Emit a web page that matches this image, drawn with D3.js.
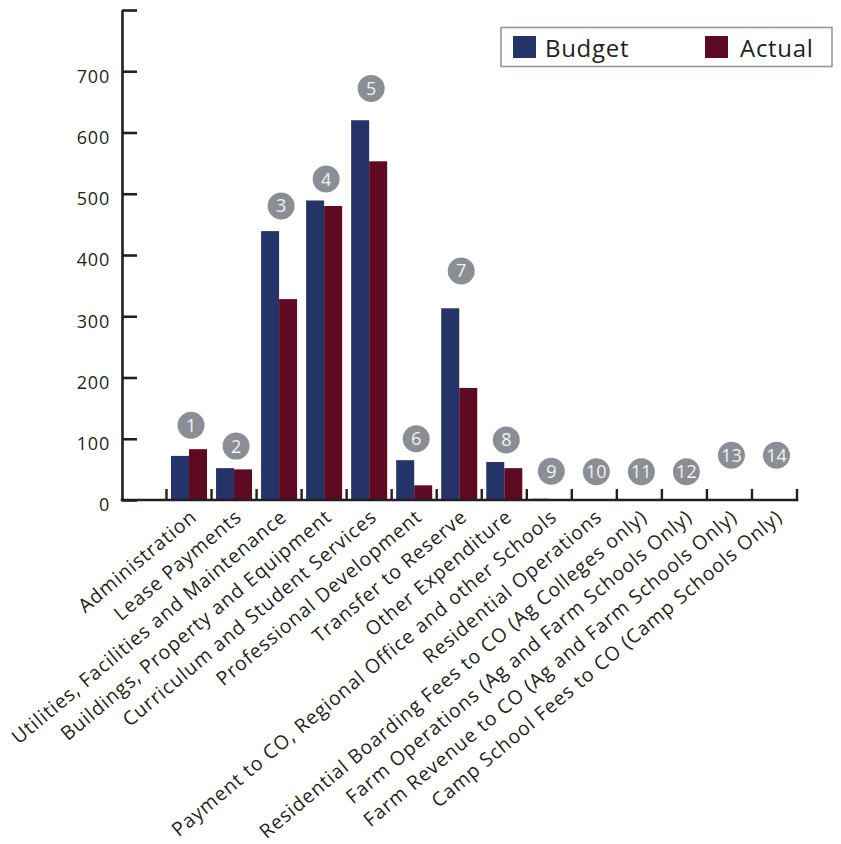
<!DOCTYPE html>
<html>
<head>
<meta charset="utf-8">
<script src="https://cdn.jsdelivr.net/npm/d3@7/dist/d3.min.js"></script>
<style>
  html, body { margin: 0; padding: 0; background: #fff; }
  svg { display: block; }
  text { font-family: "Open Sans", "Lato", sans-serif; fill: #231f20; }
</style>
</head>
<body>
<svg id="chart" width="841" height="844"></svg>
<script>
const categories = [
  "Administration",
  "Lease Payments",
  "Utilities, Facilities and Maintenance",
  "Buildings, Property and Equipment",
  "Curriculum and Student Services",
  "Professional Development",
  "Transfer to Reserve",
  "Other Expenditure",
  "Payment to CO, Regional Office and other Schools",
  "Residential Operations",
  "Residential Boarding Fees to CO (Ag Colleges only)",
  "Farm Operations (Ag and Farm Schools Only)",
  "Farm Revenue to CO (Ag and Farm Schools Only)",
  "Camp School Fees to CO (Camp Schools Only)"
];
const budget = [72, 52, 439, 489, 620, 65, 313, 62, 2, 0, 0, 0, 0, 0];
const actual = [83, 50, 328, 480, 553, 24, 183, 52, 0, 0, 0, 0, 0, 0];
const badgeNumbers = [1, 2, 3, 4, 5, 6, 7, 8, 9, 10, 11, 12, 13, 14];
const badgeLevels = [122, 88, 480, 524, 672, 100, 374, 98, 47, 46, 46, 46, 73, 73];
const yTicks = [0, 100, 200, 300, 400, 500, 600, 700, 800];
const yTickLabels = ["0", "100", "200", "300", "400", "500", "600", "700", ""];
const seriesNames = ["Budget", "Actual"];
const colors = ["#243468", "#5e0a22"];

const svg = d3.select("#chart");
const axisX0 = 122, plotLeft = 166.5, plotRight = 797, yTop = 10, yZero = 500;

const y = d3.scaleLinear().domain([0, 800]).range([yZero, yTop]);
const x = d3.scaleBand().domain(categories).range([plotLeft, plotRight]).paddingInner(0).paddingOuter(0);
const xSub = d3.scaleBand().domain(seriesNames).range([4.5, x.bandwidth() - 4.5]).padding(0);
const color = d3.scaleOrdinal().domain(seriesNames).range(colors);

// bars
const rows = categories.map((c, i) => ({ c, vals: [budget[i], actual[i]] }));
const groups = svg.append("g").selectAll("g").data(rows).join("g")
  .attr("transform", d => `translate(${x(d.c)},0)`);
groups.selectAll("rect").data(d => d.vals.map((v, k) => ({ s: seriesNames[k], v })))
  .join("rect")
  .attr("x", d => xSub(d.s))
  .attr("width", xSub.bandwidth())
  .attr("y", d => y(d.v))
  .attr("height", d => yZero - y(d.v))
  .attr("fill", d => color(d.s));

// y axis
const yAxis = d3.axisLeft(y)
  .tickValues(yTicks)
  .tickFormat((d, i) => yTickLabels[i])
  .tickSizeInner(-15)
  .tickSizeOuter(0)
  .tickPadding(12);
const gy = svg.append("g").attr("transform", `translate(${axisX0},0)`).call(yAxis);
gy.select(".domain").attr("stroke", "#231f20").attr("stroke-width", 2.6);
gy.selectAll(".tick line").attr("stroke", "#231f20").attr("stroke-width", 2.6);
gy.selectAll(".tick text")
  .attr("font-family", "Open Sans")
  .attr("font-size", 18)
  .attr("letter-spacing", 0.8)
  .attr("fill", "#231f20")
  .attr("dy", "0.6em");

// x axis line and ticks
const gx = svg.append("g");
gx.append("line")
  .attr("x1", axisX0 - 1.3).attr("x2", plotRight + 1.3)
  .attr("y1", yZero).attr("y2", yZero)
  .attr("stroke", "#231f20").attr("stroke-width", 2.6);
const boundaries = categories.map(c => x(c)).concat([x.range()[1]]);
gx.selectAll("line.tick").data(boundaries).join("line")
  .attr("class", "tick")
  .attr("x1", d => d).attr("x2", d => d)
  .attr("y1", yZero).attr("y2", yZero - 11)
  .attr("stroke", "#231f20").attr("stroke-width", 2.4);

// x labels
gx.selectAll("text.lbl").data(categories).join("text")
  .attr("class", "lbl")
  .attr("transform", d => `translate(${x(d) + x.bandwidth() / 2 + 9},${519}) rotate(-40)`)
  .attr("text-anchor", "end")
  .attr("font-size", 19.5)
  .attr("letter-spacing", 0.9)
  .text(d => d);

// badges
const badges = svg.append("g").selectAll("g").data(categories.map((c, i) => ({ c, n: badgeNumbers[i], lv: badgeLevels[i] })))
  .join("g")
  .attr("transform", d => `translate(${x(d.c) + x.bandwidth() / 2 + 2},${y(d.lv)})`);
badges.append("circle").attr("r", 13.5).attr("fill", "#8b8e95");
badges.append("text")
  .attr("text-anchor", "middle")
  .attr("dy", "0.36em")
  .attr("font-size", 18)
  .style("fill", "#f2f2f2")
  .text(d => d.n);

// legend
const lg = svg.append("g");
lg.append("rect").attr("x", 501).attr("y", 27.5).attr("width", 331).attr("height", 39)
  .attr("fill", "#fff").attr("stroke", "#9c9694").attr("stroke-width", 1.6);
const legendX = [513, 705];
const legendTextOffset = [32, 35];
seriesNames.forEach((s, i) => {
  lg.append("rect").attr("x", legendX[i]).attr("y", 36).attr("width", 23).attr("height", 22).attr("fill", color(s));
  lg.append("text").attr("x", legendX[i] + legendTextOffset[i]).attr("y", 57)
    .attr("font-size", 24).attr("letter-spacing", 0.7).text(s);
});
</script>
</body>
</html>
